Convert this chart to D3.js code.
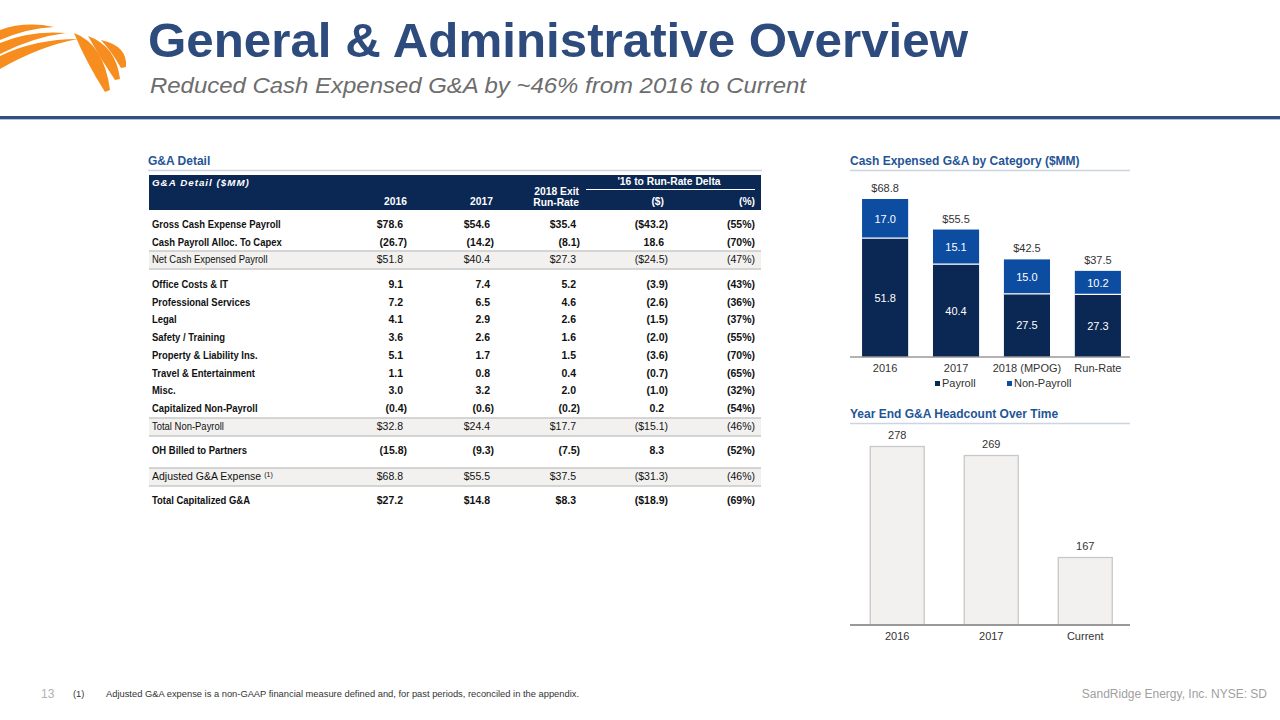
<!DOCTYPE html>
<html>
<head>
<meta charset="utf-8">
<script src="https://cdn.jsdelivr.net/npm/d3@7"></script>
<style>
  html, body { margin: 0; padding: 0; background: #fff; }
  svg { display: block; font-family: "Liberation Sans", Arial, sans-serif; }
</style>
</head>
<body>
<svg id="chart" width="1280" height="720"></svg>
<script>
// ---------------- DATA ----------------
const tableRowLabels = [
  "Gross Cash Expense Payroll", "Cash Payroll Alloc. To Capex", "Net Cash Expensed Payroll",
  "Office Costs & IT", "Professional Services", "Legal", "Safety / Training",
  "Property & Liability Ins.", "Travel & Entertainment", "Misc.", "Capitalized Non-Payroll",
  "Total Non-Payroll", "OH Billed to Partners", "Adjusted G&A Expense", "Total Capitalized G&A"
];
const values2016 = [78.6, -26.7, 51.8, 9.1, 7.2, 4.1, 3.6, 5.1, 1.1, 3.0, -0.4, 32.8, -15.8, 68.8, 27.2];
const values2017 = [54.6, -14.2, 40.4, 7.4, 6.5, 2.9, 2.6, 1.7, 0.8, 3.2, -0.6, 24.4, -9.3, 55.5, 14.8];
const valuesRunRate = [35.4, -8.1, 27.3, 5.2, 4.6, 2.6, 1.6, 1.5, 0.4, 2.0, -0.2, 17.7, -7.5, 37.5, 8.3];
const deltaDollar = [-43.2, 18.6, -24.5, -3.9, -2.6, -1.5, -2.0, -3.6, -0.7, -1.0, 0.2, -15.1, 8.3, -31.3, -18.9];
const deltaPct = [-55, -70, -47, -43, -36, -37, -55, -70, -65, -32, -54, -46, -52, -46, -69];
const dollarRows = ["Gross Cash Expense Payroll", "Net Cash Expensed Payroll", "Total Non-Payroll", "Adjusted G&A Expense", "Total Capitalized G&A"];
const subtotalRows = ["Net Cash Expensed Payroll", "Total Non-Payroll", "Adjusted G&A Expense"];
const footnotedRow = "Adjusted G&A Expense";

const catCategories = ["2016", "2017", "2018 (MPOG)", "Run-Rate"];
const catPayroll = [51.8, 40.4, 27.5, 27.3];
const catNonPayroll = [17.0, 15.1, 15.0, 10.2];
const catSeries = ["Payroll", "Non-Payroll"];

const hcYears = ["2016", "2017", "Current"];
const hcValues = [278, 269, 167];

// ---------------- STYLE ----------------
const navy = "#0B2753", blue = "#0D4DA1", titleBlue = "#2E4B7E", secBlue = "#1F5597";
const orange = "#F68D1E";
const svg = d3.select("#chart");

// ---------------- LOGO ----------------
const logo = svg.append("g").attr("fill", orange);
[
  "M0,30 Q25,21 54,27 Q28,28 0,40 Z",
  "M0,43 Q30,30 66,33 Q33,37 0,54 Z",
  "M0,56 Q35,39 78,39 Q40,46 0,69 Z",
  "M74,33 Q104,44 110,90 L105,92 Q86,62 74,33 Z",
  "M88,36 Q116,46 120,79 L115,80 Q100,58 88,36 Z",
  "M101,40 Q128,46 126,67 L121,68 Q112,52 101,40 Z"
].forEach(p => logo.append("path").attr("d", p));

// ---------------- HEADER ----------------
svg.append("text").attr("x", 148).attr("y", 57)
  .attr("font-size", 49).attr("font-weight", "bold").attr("fill", titleBlue)
  .attr("textLength", 820).attr("lengthAdjust", "spacingAndGlyphs")
  .text("General & Administrative Overview");
svg.append("text").attr("x", 150).attr("y", 93)
  .attr("font-size", 22).attr("font-style", "italic").attr("fill", "#6d6d6d")
  .attr("textLength", 656).attr("lengthAdjust", "spacingAndGlyphs")
  .text("Reduced Cash Expensed G&A by ~46% from 2016 to Current");
svg.append("rect").attr("x", 0).attr("y", 116).attr("width", 1280).attr("height", 3).attr("fill", "#34507F");
svg.append("rect").attr("x", 0).attr("y", 119).attr("width", 1280).attr("height", 1).attr("fill", "#B7C3D6");

// ---------------- TABLE ----------------
const T = svg.append("g");
T.append("text").attr("x", 148).attr("y", 165).attr("font-size", 12).attr("font-weight", "bold")
  .attr("fill", secBlue).text("G&A Detail");
T.append("line").attr("x1", 148).attr("x2", 762).attr("y1", 170.5).attr("y2", 170.5)
  .attr("stroke", "#CCD5DF").attr("stroke-width", 1.5);
T.append("rect").attr("x", 149).attr("y", 175).attr("width", 612).attr("height", 35).attr("fill", navy);
T.append("text").attr("x", 152).attr("y", 186).attr("font-size", 9.8).attr("font-weight", "bold")
  .attr("font-style", "italic").attr("letter-spacing", 1).attr("fill", "#fff").text("G&A Detail ($MM)");

const colRight = [407, 494, 580, 668, 755];
const hdr = (x, y, t, anchor) => T.append("text").attr("x", x).attr("y", y).attr("font-size", 10.3)
  .attr("font-weight", "bold").attr("fill", "#fff").attr("text-anchor", anchor || "end").text(t);
hdr(407, 205, "2016");
hdr(493, 205, "2017");
hdr(579, 195, "2018 Exit");
hdr(579, 206, "Run-Rate");
hdr(669, 185, "'16 to Run-Rate Delta", "middle");
T.append("line").attr("x1", 586).attr("x2", 755).attr("y1", 189.5).attr("y2", 189.5)
  .attr("stroke", "#fff").attr("stroke-width", 1);
hdr(664, 205, "($)");
hdr(755, 205, "(%)");

const rowY = d3.scaleOrdinal().domain(tableRowLabels)
  .range([228, 246, 263, 288, 306, 323, 341, 359, 377, 394, 412, 430, 454, 480, 504]);

// shaded subtotal rows
subtotalRows.forEach(lbl => {
  const y = rowY(lbl);
  T.append("rect").attr("x", 149).attr("y", y - 12).attr("width", 612).attr("height", 18).attr("fill", "#F2F1EF");
  [y - 12, y + 6].forEach(ly => T.append("line").attr("x1", 149).attr("x2", 761)
    .attr("y1", ly).attr("y2", ly).attr("stroke", "#C9C9C9").attr("stroke-width", 1.6));
});

const fmtNum = (v, dollar) => {
  const s = (dollar ? "$" : "") + d3.format(".1f")(Math.abs(v));
  return v < 0 ? "(" + s + ")" : s;
};
const fmtPct = v => v < 0 ? "(" + Math.abs(v) + "%)" : v + "%";

tableRowLabels.forEach((lbl, i) => {
  const y = rowY(lbl);
  const sub = subtotalRows.includes(lbl);
  const dol = dollarRows.includes(lbl);
  const g = T.append("g").attr("font-size", 10.5).attr("font-weight", sub ? "normal" : "bold").attr("fill", "#111");
  const lt = g.append("text").attr("x", 152).attr("y", y).text(lbl);
  const natural = lt.node().getComputedTextLength();
  if (lbl === footnotedRow) {
    g.append("text").attr("x", 152 + natural + 3).attr("y", y - 3).attr("font-size", 7).text("(1)");
  } else {
    lt.attr("textLength", natural * 0.9).attr("lengthAdjust", "spacingAndGlyphs");
  }
  const cols = [values2016[i], values2017[i], valuesRunRate[i], deltaDollar[i]];
  cols.forEach((v, c) => {
    g.append("text").attr("x", colRight[c] - (v < 0 ? 0 : 4)).attr("y", y)
      .attr("text-anchor", "end").text(fmtNum(v, dol));
  });
  g.append("text").attr("x", colRight[4] - (deltaPct[i] < 0 ? 0 : 4)).attr("y", y)
    .attr("text-anchor", "end").text(fmtPct(deltaPct[i]));
});

// ---------------- CHART 1: Cash Expensed G&A by Category ----------------
const C1 = svg.append("g");
C1.append("text").attr("x", 850).attr("y", 165).attr("font-size", 12).attr("font-weight", "bold")
  .attr("fill", secBlue).text("Cash Expensed G&A by Category ($MM)");
C1.append("line").attr("x1", 850).attr("x2", 1130).attr("y1", 170.5).attr("y2", 170.5)
  .attr("stroke", "#CCD5DF").attr("stroke-width", 1.5);

const x1 = d3.scaleBand().domain(catCategories).range([850, 1133]).paddingInner(0.35).paddingOuter(0.17);
const y1 = d3.scaleLinear().domain([0, 68.8]).range([357, 199]);
const stackData = catCategories.map((c, i) => ({ cat: c, "Payroll": catPayroll[i], "Non-Payroll": catNonPayroll[i] }));
const stacked = d3.stack().keys(catSeries)(stackData);
const color1 = d3.scaleOrdinal().domain(catSeries).range([navy, blue]);

stacked.forEach(layer => {
  const lg = C1.append("g").attr("fill", color1(layer.key));
  layer.forEach(d => {
    lg.append("rect").attr("x", x1(d.data.cat)).attr("width", x1.bandwidth())
      .attr("y", y1(d[1])).attr("height", y1(d[0]) - y1(d[1]));
    C1.append("text").attr("x", x1(d.data.cat) + x1.bandwidth() / 2)
      .attr("y", (y1(d[0]) + y1(d[1])) / 2 + 4).attr("text-anchor", "middle")
      .attr("font-size", 11).attr("fill", "#fff").text(d3.format(".1f")(d[1] - d[0]));
  });
});
// white separators between segments
stacked[0].forEach(d => {
  C1.append("line").attr("x1", x1(d.data.cat)).attr("x2", x1(d.data.cat) + x1.bandwidth())
    .attr("y1", y1(d[1])).attr("y2", y1(d[1])).attr("stroke", "#fff").attr("stroke-width", 1.2);
});
// totals
stacked[1].forEach(d => {
  C1.append("text").attr("x", x1(d.data.cat) + x1.bandwidth() / 2).attr("y", y1(d[1]) - 7)
    .attr("text-anchor", "middle").attr("font-size", 11).attr("fill", "#333")
    .text("$" + d3.format(".1f")(d[1]));
});
// axis
const ax1 = C1.append("g").attr("transform", "translate(0,357)")
  .call(d3.axisBottom(x1).tickSize(0).tickPadding(7));
ax1.select(".domain").attr("d", "M850,0H1130").attr("stroke", "#999").attr("stroke-width", 1.5);
ax1.selectAll("text").attr("font-size", 11).attr("fill", "#333").attr("font-family", "Liberation Sans, Arial, sans-serif");

// legend
const legX = [935, 1007];
catSeries.forEach((s, i) => {
  C1.append("rect").attr("x", legX[i]).attr("y", 381).attr("width", 5).attr("height", 5).attr("fill", color1(s));
  C1.append("text").attr("x", legX[i] + 7).attr("y", 387).attr("font-size", 11).attr("fill", "#333").text(s);
});

// ---------------- CHART 2: Headcount ----------------
const C2 = svg.append("g");
C2.append("text").attr("x", 850).attr("y", 418).attr("font-size", 12).attr("font-weight", "bold")
  .attr("fill", secBlue).text("Year End G&A Headcount Over Time");
C2.append("line").attr("x1", 850).attr("x2", 1130).attr("y1", 423.5).attr("y2", 423.5)
  .attr("stroke", "#CCD5DF").attr("stroke-width", 1.5);

const x2 = d3.scaleBand().domain(hcYears).range([850, 1132.5]).paddingInner(0.415).paddingOuter(0.21);
const y2 = d3.scaleLinear().domain([99, 278]).range([625, 446]);
hcYears.forEach((yr, i) => {
  C2.append("rect").attr("x", x2(yr) + 0.5).attr("width", x2.bandwidth() - 1)
    .attr("y", y2(hcValues[i]) + 0.5).attr("height", y2(99) - y2(hcValues[i]) - 0.5)
    .attr("fill", "#F2F1EF").attr("stroke", "#C8C8C8").attr("stroke-width", 1.3);
  C2.append("text").attr("x", x2(yr) + x2.bandwidth() / 2).attr("y", y2(hcValues[i]) - 7)
    .attr("text-anchor", "middle").attr("font-size", 11).attr("fill", "#333").text(hcValues[i]);
});
const ax2 = C2.append("g").attr("transform", "translate(0,625)")
  .call(d3.axisBottom(x2).tickSize(0).tickPadding(7));
ax2.select(".domain").attr("d", "M850,0H1130").attr("stroke", "#999").attr("stroke-width", 1.8);
ax2.selectAll("text").attr("font-size", 11).attr("fill", "#333").attr("font-family", "Liberation Sans, Arial, sans-serif");

// ---------------- FOOTER ----------------
svg.append("text").attr("x", 41).attr("y", 698).attr("font-size", 12).attr("fill", "#B0B0B0").text("13");
svg.append("text").attr("x", 73).attr("y", 697).attr("font-size", 9.3).attr("fill", "#333").text("(1)");
svg.append("text").attr("x", 106).attr("y", 697).attr("font-size", 9.3).attr("fill", "#333")
  .attr("textLength", 473).attr("lengthAdjust", "spacingAndGlyphs")
  .text("Adjusted G&A expense is a non-GAAP financial measure defined and, for past periods, reconciled in the appendix.");
svg.append("text").attr("x", 1267).attr("y", 698).attr("font-size", 12).attr("fill", "#A0A0A0")
  .attr("text-anchor", "end")
  .text("SandRidge Energy, Inc.  NYSE: SD");
</script>
</body>
</html>
